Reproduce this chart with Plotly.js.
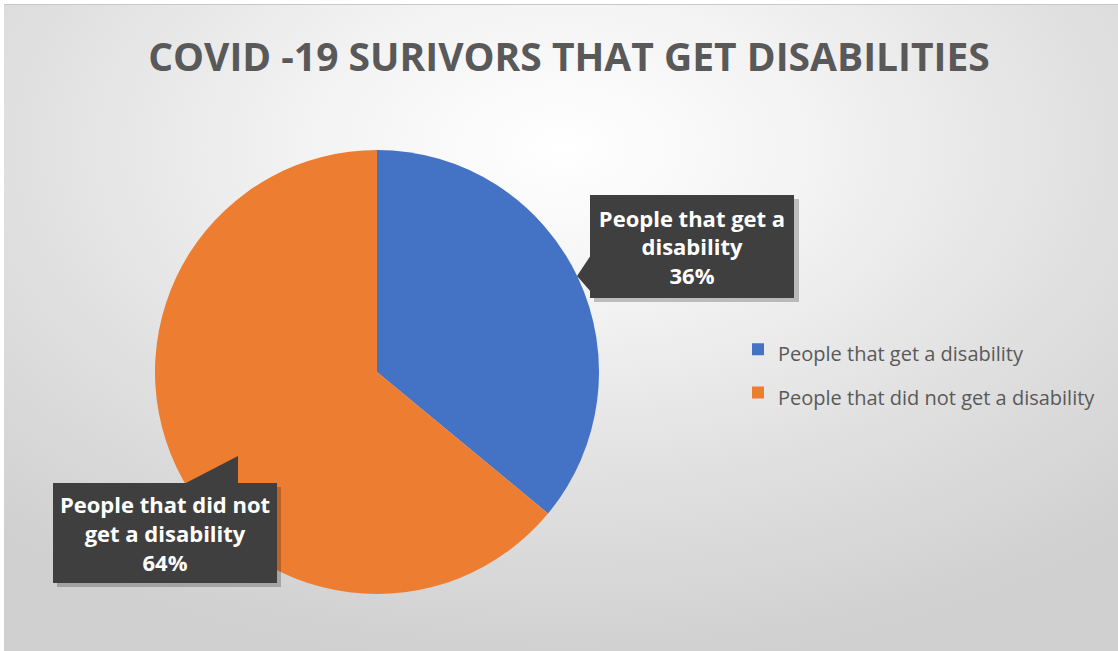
<!DOCTYPE html>
<html>
<head>
<meta charset="utf-8">
<script src="https://cdn.plot.ly/plotly-3.0.1.min.js"></script>
<style>
  html, body { margin: 0; padding: 0; background: #ffffff; }
  #wrap { position: absolute; left: 0; top: 0; width: 1118px; height: 651px; background: #ffffff; }
  #bg { position: absolute; left: 4px; top: 4px; width: 1114px; height: 647px;
        border-top: 1px solid #c8c8c8;
        background: radial-gradient(ellipse 75% 80% at 50% 22%, #ffffff 0%, #f3f3f3 30%, #e0e0e0 65%, #d0d0d0 100%); }
  #chart { position: absolute; left: 0; top: 0; width: 1118px; height: 651px; }
</style>
</head>
<body>
<div id="wrap"><div id="bg"></div><div id="chart"></div></div>
<script>
const chartTitle = "COVID -19 SURIVORS THAT GET DISABILITIES";
const categories = ["People that get a disability", "People that did not get a disability"];
const values = [36, 64];
const labelLines = ["People that get a<br>disability", "People that did not<br>get a disability"];
const colors = ["#4472C4", "#ED7D31"];

const W = 1118, H = 651;
const px = x => x / W;
const py = y => 1 - y / H;
const total = values.reduce((a, b) => a + b, 0);
const pct = values.map(v => Math.round(v / total * 100) + "%");

// legend rows are spaced wider than the text size: large legend font, smaller text spans
const legendLabels = categories.map(c => "<span style='font-size:20px'>" + c + "</span>");

const trace = {
  type: "pie",
  labels: legendLabels,
  values: values,
  sort: false,
  direction: "clockwise",
  rotation: 0,
  textinfo: "none",
  hoverinfo: "percent",
  marker: { colors: colors, line: { width: 0 } },
  domain: { x: [px(377 - 222), px(377 + 222)], y: [py(594), py(150)] }
};

const boxColor = "#3f3f3f";
const calloutStyle = {
  xref: "paper", yref: "paper",
  showarrow: false,
  xanchor: "center", yanchor: "middle",
  bgcolor: boxColor, bordercolor: boxColor, borderwidth: 1, borderpad: 1,
  font: { family: "Open Sans, sans-serif", size: 22, color: "#ffffff" },
  align: "center", valign: "middle"
};

const annotations = [
  Object.assign({}, calloutStyle, {
    text: "<b>" + labelLines[0] + "<br>" + pct[0] + "</b>",
    x: px(692), y: py(247),
    width: 200, height: 99
  }),
  Object.assign({}, calloutStyle, {
    text: "<b>" + labelLines[1] + "<br>" + pct[1] + "</b>",
    x: px(165), y: py(533),
    width: 220, height: 96
  })
];

function poly(pts, color) {
  let d = pts.map((p, i) => (i ? "L" : "M") + px(p[0]) + "," + py(p[1])).join(" ") + " Z";
  return { type: "path", xref: "paper", yref: "paper", path: d, fillcolor: color, line: { width: 0 }, layer: "above" };
}
function rect(x0, y0, x1, y1, color) {
  return { type: "rect", xref: "paper", yref: "paper", x0: px(x0), x1: px(x1), y0: py(y1), y1: py(y0),
           fillcolor: color, line: { width: 0 }, layer: "above" };
}

const shapes = [
  rect(594, 199, 799, 302, "rgba(0,0,0,0.22)"),
  rect(57, 487, 281, 587, "rgba(0,0,0,0.22)"),
  poly([[591, 255], [577, 276], [591, 292]], boxColor),
  poly([[184, 484], [238, 456], [238, 484]], boxColor)
];

const layout = {
  width: W, height: H,
  margin: { l: 0, r: 0, t: 0, b: 0 },
  paper_bgcolor: "rgba(0,0,0,0)",
  plot_bgcolor: "rgba(0,0,0,0)",
  title: {
    text: "<b>" + chartTitle + "</b>",
    x: px(569), xanchor: "center",
    y: py(57), yanchor: "middle",
    font: { family: "Open Sans, sans-serif", size: 39, color: "#595959" }
  },
  showlegend: true,
  legend: {
    x: px(738), xanchor: "left",
    y: py(371), yanchor: "middle",
    bgcolor: "rgba(0,0,0,0)",
    font: { family: "Open Sans, sans-serif", size: 31, color: "#595959" },
    itemsizing: "constant"
  },
  shapes: shapes,
  annotations: annotations
};

Plotly.newPlot("chart", [trace], layout, { displayModeBar: false, staticPlot: true });
</script>
</body>
</html>
